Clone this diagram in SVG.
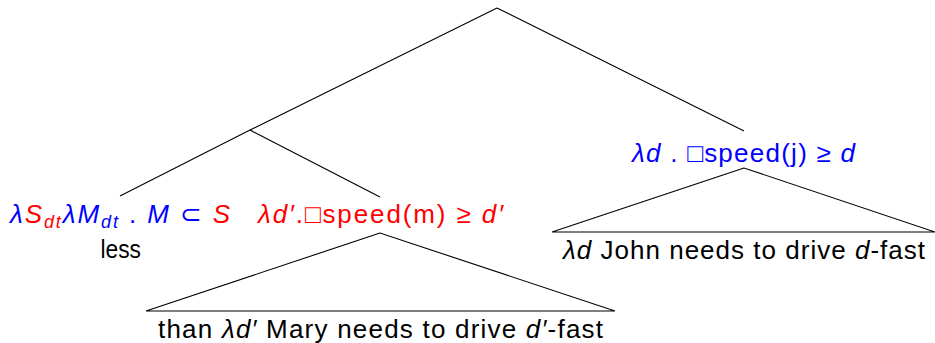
<svg xmlns="http://www.w3.org/2000/svg" width="935" height="343" viewBox="0 0 935 343">
<style>
text{font-family:"Liberation Sans","DejaVu Sans",sans-serif;font-size:26px;fill:#000}
.m{font-style:italic}
.b{fill:#0000ff}
.r{fill:#ff0000}
.sub{font-size:18px}
line{stroke:#000;stroke-width:1.1;fill:none}
.tri{stroke:#000;stroke-width:1.1;fill:none}
</style>
<g id="connectors">
<line x1="497" y1="8" x2="250" y2="130"/>
<line x1="497" y1="8" x2="744" y2="131"/>
<line x1="250" y1="130" x2="120" y2="196"/>
<line x1="250" y1="130" x2="380" y2="197"/>
</g>
<g id="node-less">
<text x="10" y="223" textLength="220" lengthAdjust="spacing"><tspan class="m b">λ</tspan><tspan class="m r">S</tspan><tspan class="m r sub" dy="5">dt</tspan><tspan class="m b" dy="-5">λM</tspan><tspan class="m b sub" dy="5">dt</tspan><tspan class="b" dy="-5"> . </tspan><tspan class="m b">M</tspan><tspan class="b"> ⊂ </tspan><tspan class="m r">S</tspan></text>
<text x="100.5" y="258" textLength="40.5" lengthAdjust="spacingAndGlyphs">less</text>
</g>
<g id="node-than">
<text x="258" y="223" class="r" textLength="245" lengthAdjust="spacing"><tspan class="m">λd′</tspan>.□speed(m) ≥ <tspan class="m">d′</tspan></text>
<polygon class="tri" points="380,233 146,311 615,311"/>
<text x="158" y="338" textLength="445" lengthAdjust="spacing">than <tspan class="m">λd′</tspan> Mary needs to drive <tspan class="m">d′</tspan>-fast</text>
</g>
<g id="node-john">
<text x="632" y="162" class="b" textLength="223" lengthAdjust="spacing"><tspan class="m">λd</tspan> . □speed(j) ≥ <tspan class="m">d</tspan></text>
<polygon class="tri" points="744,168 552,232 935,232"/>
<text x="563" y="259" textLength="362" lengthAdjust="spacing"><tspan class="m">λd</tspan> John needs to drive <tspan class="m">d</tspan>-fast</text>
</g>
</svg>
